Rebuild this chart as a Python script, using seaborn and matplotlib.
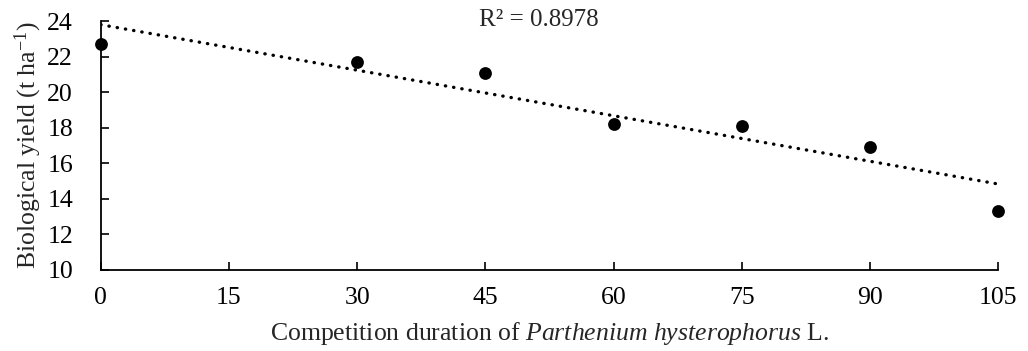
import numpy as np
import pandas as pd
import matplotlib
matplotlib.use("Agg")
import matplotlib.pyplot as plt
import seaborn as sns

# data
duration = [0, 30, 45, 60, 75, 90, 105]
yield_t = [22.7, 21.7, 21.1, 18.2, 18.1, 16.9, 13.3]
x_ticks = [0, 15, 30, 45, 60, 75, 90, 105]
y_ticks = [10, 12, 14, 16, 18, 20, 22, 24]
r2_label = "R\u00b2 = 0.8978"

df = pd.DataFrame({"duration": duration, "yield": yield_t})

sns.set_style("ticks")
plt.rcParams["font.family"] = ["Liberation Serif", "DejaVu Serif"]
plt.rcParams["mathtext.fontset"] = "custom"
plt.rcParams["mathtext.rm"] = "Liberation Serif"
plt.rcParams["mathtext.it"] = "Liberation Serif:italic"

fig = plt.figure(figsize=(10.28, 3.51), dpi=100)
ax = fig.add_axes([0.098, 0.231, 0.873, 0.709])

sns.regplot(data=df, x="duration", y="yield", ci=None, ax=ax,
            scatter_kws={"s": 85, "color": "black", "alpha": 1, "linewidths": 0,
                         "clip_on": False, "zorder": 5},
            line_kws={"color": "black", "lw": 2.4, "linestyle": (0, (0.1, 2.4)),
                      "dash_capstyle": "round"})

ax.set_xlim(0, 105)
ax.set_ylim(10, 24)
ax.set_xticks(x_ticks)
ax.set_yticks(y_ticks)
ax.tick_params(direction="in", length=6, width=1.2, labelsize=18.5, colors="black")
ax.tick_params(axis="y", pad=20)
ax.tick_params(axis="x", pad=12)
for side in ["top", "right"]:
    ax.spines[side].set_visible(False)
for side in ["left", "bottom"]:
    ax.spines[side].set_linewidth(1.3)
    ax.spines[side].set_color("black")

ax.set_xlabel("Competition duration of $\\it{Parthenium\\ hysterophorus}$ L.",
              fontsize=18.5, labelpad=8)
ax.set_ylabel("Biological yield (t ha$^{-1}$)", fontsize=18.5, labelpad=2)

ax.text(51.3, 24.05, r2_label, ha="center", va="center", fontsize=18)

fig.savefig("out.png", dpi=100, facecolor="white")
